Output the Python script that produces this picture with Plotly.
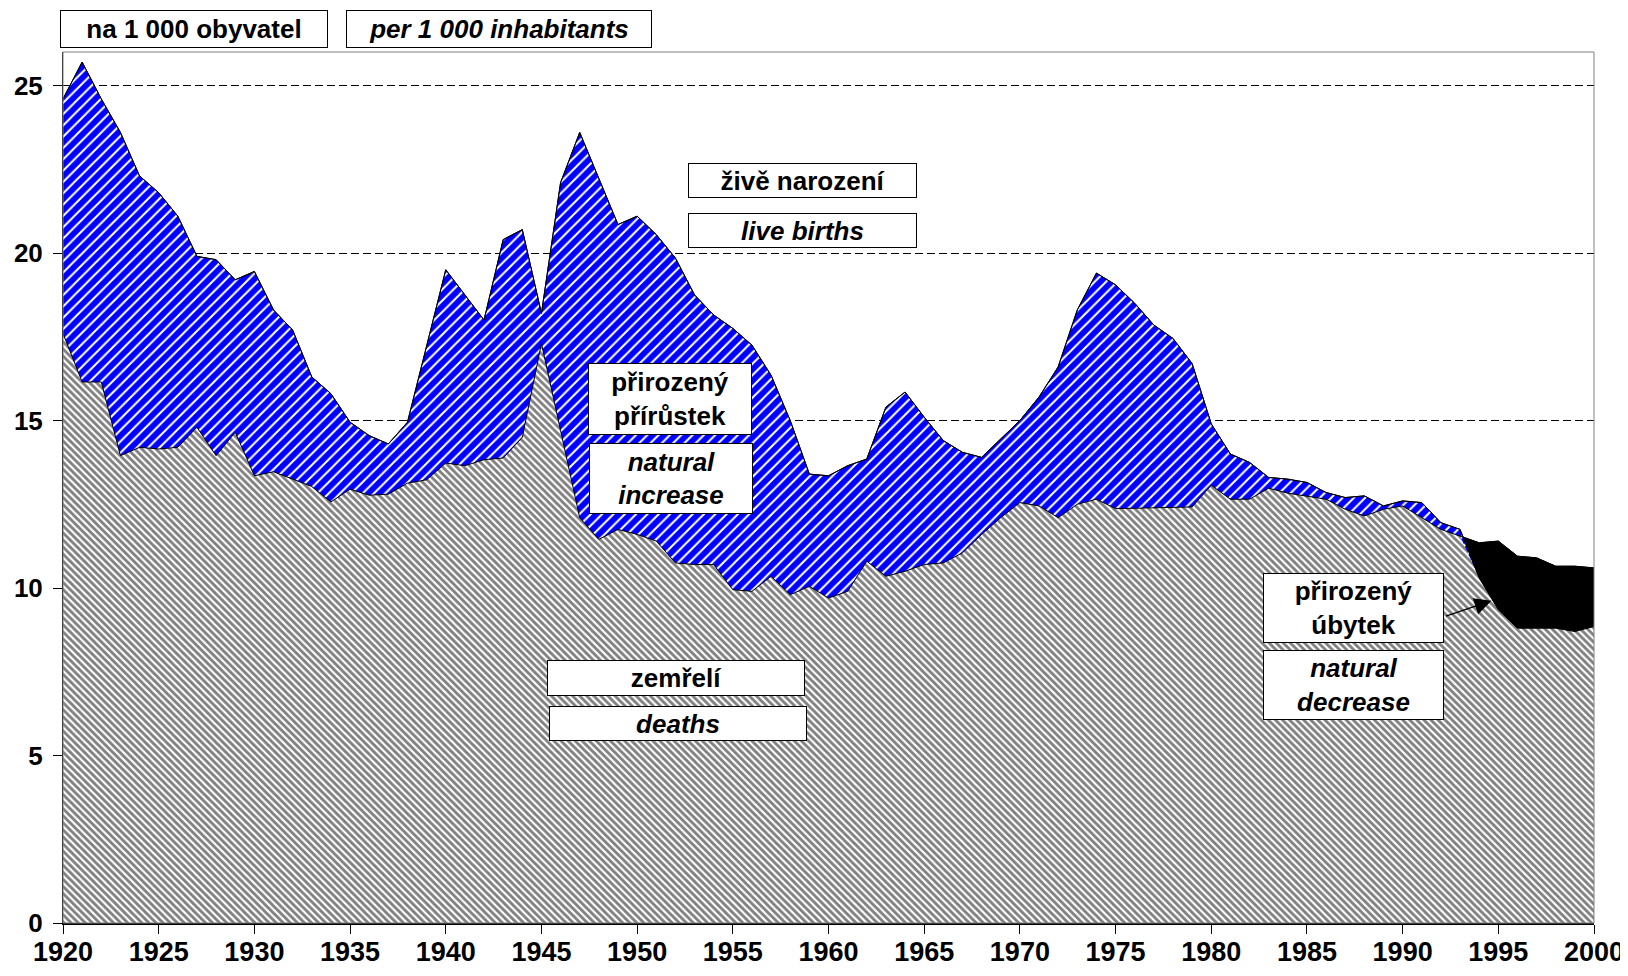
import plotly.graph_objects as go

years = list(range(1920, 2001))

births = [24.6, 25.7, 24.6, 23.6, 22.3, 21.8, 21.1, 19.9, 19.8, 19.2,
          19.45, 18.3, 17.7, 16.3, 15.8, 14.95, 14.55, 14.3, 14.95, 17.2,
          19.5, 18.75, 18.0, 20.4, 20.7, 18.2, 22.1, 23.6, 22.25, 20.85,
          21.1, 20.55, 19.85, 18.75, 18.15, 17.75, 17.25, 16.35, 15.0, 13.4,
          13.35, 13.65, 13.85, 15.4, 15.85, 15.1, 14.4, 14.05, 13.9, 14.45,
          15.0, 15.7, 16.6, 18.3, 19.4, 19.05, 18.5, 17.85, 17.45, 16.7,
          14.9, 14.0, 13.75, 13.3, 13.25, 13.15, 12.85, 12.7, 12.75, 12.45,
          12.6, 12.55, 11.95, 11.75, 10.3, 9.35, 8.8, 8.8, 8.8, 8.7,
          8.85]

deaths = [17.6, 16.15, 16.15, 13.95, 14.2, 14.15, 14.2, 14.8, 13.95, 14.65,
          13.35, 13.47, 13.25, 13.03, 12.57, 12.95, 12.77, 12.8, 13.13, 13.23,
          13.73, 13.65, 13.83, 13.88, 14.5, 17.3, 14.7, 12.1, 11.45, 11.75,
          11.6, 11.4, 10.75, 10.7, 10.7, 9.95, 9.9, 10.35, 9.8, 10.05,
          9.7, 9.9, 10.8, 10.35, 10.5, 10.7, 10.75, 11.05, 11.6, 12.1,
          12.55, 12.45, 12.1, 12.5, 12.65, 12.37, 12.38, 12.4, 12.4, 12.42,
          13.07, 12.65, 12.65, 12.98, 12.83, 12.73, 12.65, 12.35, 12.15, 12.35,
          12.45, 12.1, 11.75, 11.55, 11.35, 11.4, 10.95, 10.9, 10.65, 10.65,
          10.6]

y_ticks = [0, 5, 10, 15, 20, 25]
x_ticks = list(range(1920, 2001, 5))

lower = [min(b, d) for b, d in zip(births, deaths)]

FONT = "Liberation Sans, Arial, sans-serif"

fig = go.Figure()

# natural decrease (black) = deaths area, later covered by births and min
fig.add_trace(go.Scatter(x=years, y=deaths, mode="lines", fill="tozeroy",
                         fillcolor="black", line=dict(color="black", width=1),
                         hoverinfo="skip", showlegend=False))
# live births (blue hatched)
fig.add_trace(go.Scatter(x=years, y=births, mode="lines", fill="tozeroy",
                         fillpattern=dict(shape="/", fgcolor="#0000FF", bgcolor="white",
                                          fgopacity=1, size=8, solidity=0.74),
                         line=dict(color="black", width=1),
                         hoverinfo="skip", showlegend=False))
# deaths (grey hatched) = min(births, deaths)
fig.add_trace(go.Scatter(x=years, y=lower, mode="lines", fill="tozeroy",
                         fillpattern=dict(shape="\\", fgcolor="black", bgcolor="white",
                                          size=5, solidity=0.58),
                         line=dict(color="rgba(0,0,0,0)", width=0),
                         hoverinfo="skip", showlegend=False))
# outlines
fig.add_trace(go.Scatter(x=years, y=deaths, mode="lines",
                         line=dict(color="black", width=1),
                         hoverinfo="skip", showlegend=False))
fig.add_trace(go.Scatter(x=years, y=births, mode="lines",
                         line=dict(color="black", width=1),
                         hoverinfo="skip", showlegend=False))

# page offset of the figure div (default body margin)
OFF = 8
W, H = 1620, 968
L, T = 55, 44
pw, ph = 1531, 871
R = W - L - pw
B = H - T - ph
PL, PB = OFF + L, OFF + T + ph   # plot-area left / bottom in page pixels


def px2paper(px, py):
    return (px - PL) / pw, (PB - py) / ph


def box(text, cx, cy, w, h, italic=False):
    xp, yp = px2paper(cx, cy)
    fig.add_annotation(
        x=xp, y=yp, xref="paper", yref="paper", text=text, showarrow=False,
        xanchor="center", yanchor="middle", width=w - 2, height=h - 2,
        bgcolor="white", bordercolor="black", borderwidth=1, borderpad=0,
        font=dict(family=FONT, size=26, color="black", weight="bold",
                  style="italic" if italic else "normal"),
        align="center", valign="middle")


box("na 1 000 obyvatel", 193.5, 29, 268, 38)
box("per 1 000 inhabitants", 499, 29, 306, 38, italic=True)
box("živě narození", 802.5, 180, 229, 35)
box("live births", 802.5, 230, 229, 35, italic=True)
box("přirozený<br>přírůstek", 670, 398.5, 164, 72)
box("natural<br>increase", 671, 478.5, 164, 71, italic=True)
box("zemřelí", 676, 678, 258, 36)
box("deaths", 678, 723.5, 258, 35, italic=True)
box("přirozený<br>úbytek", 1353.5, 607.5, 181, 70)
box("natural<br>decrease", 1353.5, 685, 181, 70, italic=True)

# arrow pointing to natural decrease area
fig.add_annotation(x=1994.64, y=9.62, xref="x", yref="y", text="",
                   showarrow=True, ax=-47, ay=16, axref="pixel", ayref="pixel",
                   arrowhead=2, arrowsize=2.6, arrowwidth=1.3, arrowcolor="black")

# plot-area frame (grey)
fig.add_shape(type="rect", xref="paper", yref="paper", x0=0, y0=0, x1=1, y1=1,
              line=dict(color="#808080", width=1), layer="above")

fig.update_layout(
    width=W, height=H,
    margin=dict(l=L, r=R, t=T, b=B, autoexpand=False),
    paper_bgcolor="white", plot_bgcolor="white",
    showlegend=False,
    font=dict(family=FONT, color="black"),
)

fig.update_xaxes(range=[1920, 2000], tickvals=x_ticks, ticktext=[str(v) for v in x_ticks],
                 ticks="outside", ticklen=9, tickwidth=1, tickcolor="black",
                 showline=True, linecolor="black", linewidth=2,
                 showgrid=False, zeroline=False, ticklabelstandoff=-5, automargin=False,
                 tickfont=dict(family=FONT, size=27, color="black", weight="bold"))
fig.update_yaxes(range=[0, 26], tickvals=y_ticks, ticktext=[str(v) for v in y_ticks],
                 ticks="outside", ticklen=9, tickwidth=1, tickcolor="black",
                 showline=True, linecolor="black", linewidth=1,
                 showgrid=True, gridcolor="black", gridwidth=1, griddash="8px,4px",
                 zeroline=False, ticklabelstandoff=5, automargin=False,
                 tickfont=dict(family=FONT, size=26, color="black", weight="bold"))

fig.write_html("out.html")
